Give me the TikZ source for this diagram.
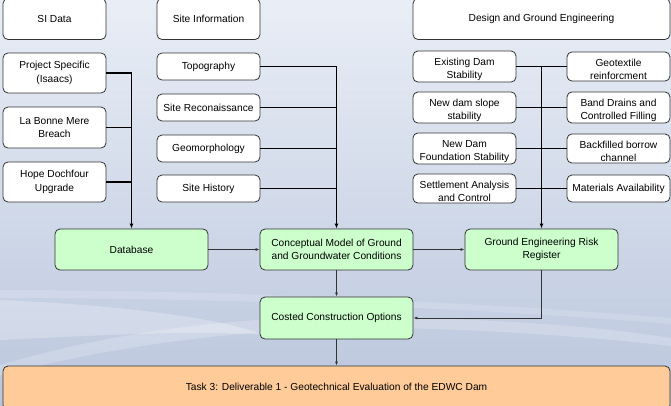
\documentclass[tikz,border=0pt]{standalone}
\usepackage{fontspec}
\setmainfont{Liberation Sans}
\usetikzlibrary{arrows.meta}
\definecolor{bgtop}{HTML}{E9EEF6}
\definecolor{bgbot}{HTML}{BAC6DD}
\definecolor{greenbox}{HTML}{CCFFCC}
\definecolor{orangebox}{HTML}{FFCC99}
\definecolor{edgecol}{HTML}{333333}
\newcommand{\tl}{\rule{0pt}{13.5pt}}
\begin{document}
\begin{tikzpicture}[x=1pt,y=-1pt,
  font=\fontsize{10.2}{13.5}\selectfont,
  box/.style={draw=edgecol, line width=0.8pt, fill=white, rounded corners=5pt,
    inner sep=1pt, align=center, minimum width=103pt},
  bigbox/.style={box, minimum height=40pt},
  smallbox/.style={box, minimum height=27pt},
  greenb/.style={box, fill=greenbox, minimum width=153pt, minimum height=41pt},
  trunk/.style={draw=black, line width=1.5pt},
  trunkarrow/.style={trunk, -{Latex[length=5pt,width=4pt]}},
  conn/.style={draw=edgecol, line width=0.9pt, -{Latex[length=4pt,width=3pt]}}
]
\useasboundingbox (0,0) rectangle (671,405);
% background
\shade[top color=bgtop, bottom color=bgbot] (0,0) rectangle (671,405);
\fill[white, opacity=0.25] (0,300) .. controls (120,305) and (220,318) .. (265,335)
  .. controls (200,330) and (100,335) .. (0,340) -- cycle;
\fill[white, opacity=0.2] (0,365) .. controls (120,330) and (250,312) .. (420,318)
  .. controls (550,322) and (620,330) .. (671,338) -- (671,346)
  .. controls (600,338) and (500,330) .. (400,328)
  .. controls (250,326) and (120,345) .. (0,375) -- cycle;
\fill[white, opacity=0.15] (0,290) .. controls (200,290) and (450,300) .. (671,318) -- (671,324)
  .. controls (450,306) and (200,298) .. (0,298) -- cycle;

% top headers
\node[bigbox, minimum height=41pt] (si) at (54.5,19) {SI Data};
\node[bigbox, minimum height=41pt] (siteinfo) at (208.5,19) {Site Information};
\node[bigbox, minimum height=41pt, minimum width=257pt] (design) at (541.5,19) {Design and Ground Engineering};

% SI data column
\node[bigbox] (proj) at (54.5,73) {Project Specific\\(Isaacs)};
\node[bigbox, minimum height=41pt] (labonne) at (54.5,127.5) {La Bonne Mere\\Breach};
\node[bigbox] (hope) at (54.5,182) {Hope Dochfour\\Upgrade};

% Site information column
\node[smallbox] (topo) at (208.5,66.5) {Topography};
\node[smallbox] (recon) at (208.5,107.5) {Site Reconaissance};
\node[smallbox] (geomorph) at (208.5,148.5) {Geomorphology};
\node[smallbox] (history) at (208.5,188.5) {Site History};

% Design columns
\node[smallbox] (exist) at (464.5,66.5) {\tl Existing Dam\\Stability};
\node[smallbox] (slope) at (464.5,107.5) {\tl New dam slope\\stability};
\node[smallbox] (found) at (464.5,148.5) {\tl New Dam\\Foundation Stability};
\node[smallbox] (settle) at (464.5,188.5) {\tl Settlement Analysis\\and Control};
\node[smallbox] (geotex) at (618.5,66.5) {\tl Geotextile\\reinforcment};
\node[smallbox] (band) at (618.5,107.5) {\tl Band Drains and\\Controlled Filling};
\node[smallbox] (borrow) at (618.5,148.5) {\tl Backfilled borrow\\channel};
\node[smallbox] (materials) at (618.5,188.5) {Materials Availability};

% green boxes
\node[greenb] (db) at (131.5,249.5) {Database};
\node[greenb] (concept) at (336.5,249.5) {Conceptual Model of Ground\\and Groundwater Conditions};
\node[greenb] (gerr) at (541.5,249.5) {Ground Engineering Risk\\Register};
\node[greenb, minimum height=42pt] (costed) at (336.5,318) {Costed Construction Options};

% task box
\node[box, fill=orangebox, minimum width=667pt, minimum height=44pt] (task) at (336.5,388) {};
\node (tasktext) at (336.5,387) {Task 3: Deliverable 1 - Geotechnical Evaluation of the EDWC Dam};

% trunks
\draw[trunkarrow] (proj.east) -| (db.north);
\draw[trunk] (labonne.east) -- (labonne.east -| db.north);
\draw[trunk] (hope.east) -- (hope.east -| db.north);

\draw[trunkarrow] (topo.east) -| (concept.north);
\draw[trunk] (recon.east) -- (recon.east -| concept.north);
\draw[trunk] (geomorph.east) -- (geomorph.east -| concept.north);
\draw[trunk] (history.east) -- (history.east -| concept.north);

\draw[trunkarrow] (exist.east) -| (gerr.north);
\draw[trunk] (slope.east) -- (slope.east -| gerr.north);
\draw[trunk] (found.east) -- (found.east -| gerr.north);
\draw[trunk] (settle.east) -- (settle.east -| gerr.north);
\draw[trunk] (geotex.west) -- (geotex.west -| gerr.north);
\draw[trunk] (band.west) -- (band.west -| gerr.north);
\draw[trunk] (borrow.west) -- (borrow.west -| gerr.north);
\draw[trunk] (materials.west) -- (materials.west -| gerr.north);

% flow connectors
\draw[conn] (db.east) -- (concept.west);
\draw[conn] (concept.east) -- (gerr.west);
\draw[conn] (concept.south) -- (costed.north);
\draw[conn] (gerr.south) |- (costed.east);
\draw[conn] (costed.south) -- (task.north);
\end{tikzpicture}
\end{document}
